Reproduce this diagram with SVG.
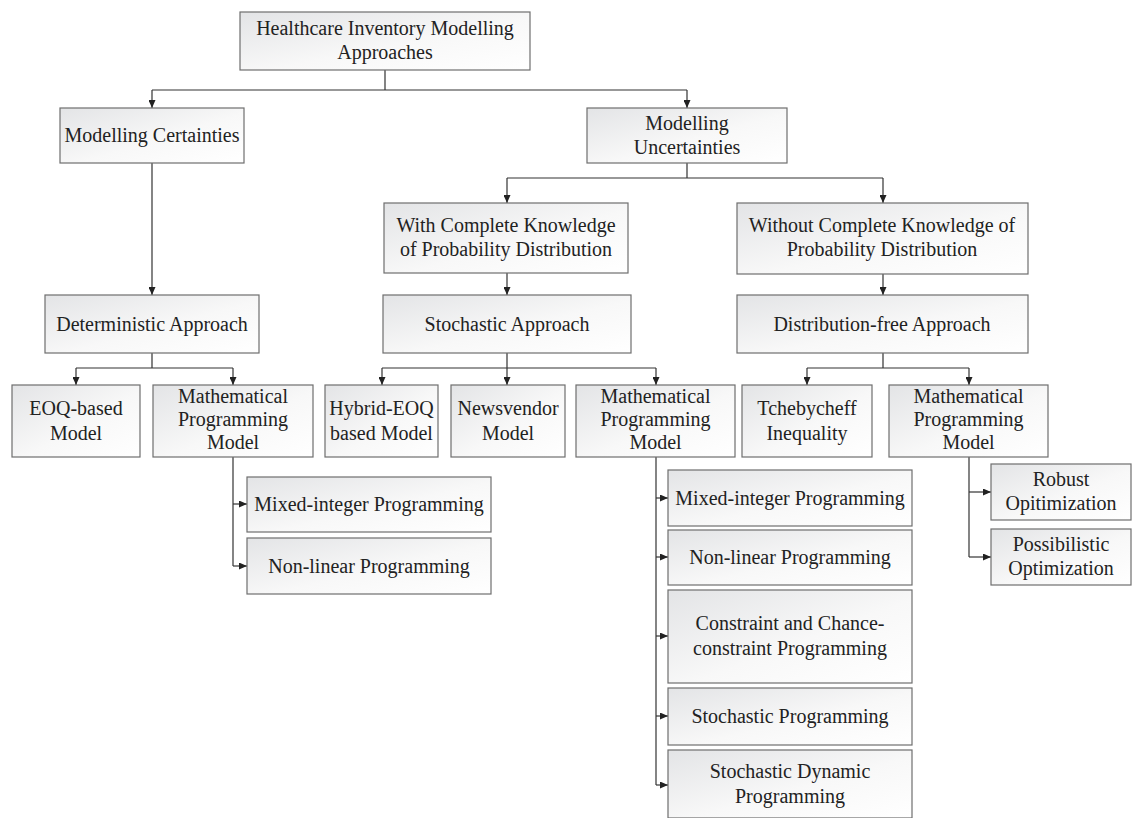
<svg xmlns="http://www.w3.org/2000/svg" width="1134" height="818" viewBox="0 0 1134 818">
<defs>
<linearGradient id="g" x1="0" y1="0" x2="1" y2="1">
<stop offset="0" stop-color="#e3e4e6"/>
<stop offset="0.55" stop-color="#f8f8f8"/>
<stop offset="1" stop-color="#ffffff"/>
</linearGradient>
<marker id="a" markerUnits="userSpaceOnUse" markerWidth="8" markerHeight="7" refX="8" refY="3.5" orient="auto">
<path d="M0,0 L8,3.5 L0,7 z" fill="#222"/>
</marker>
<style>
rect{fill:url(#g);stroke:#6e6e6e;stroke-width:1.2}
text{font-family:"Liberation Serif","Times New Roman",serif;font-size:20px;fill:#222;text-anchor:middle}
#connectors path{fill:none;stroke:#333;stroke-width:1.2}
.ar{marker-end:url(#a)}
</style>
</defs>
<rect x="0" y="0" width="1134" height="818" style="fill:#fff;stroke:none"/>
<g id="connectors">
<path d="M385,70 V90 M152,90 H687"/>
<path class="ar" d="M152,90 V108"/>
<path class="ar" d="M687,90 V108"/>
<path class="ar" d="M152,163 V295"/>
<path d="M687,163 V178 M507,178 H883"/>
<path class="ar" d="M507,178 V203"/>
<path class="ar" d="M883,178 V203"/>
<path class="ar" d="M507,273 V295"/>
<path class="ar" d="M883,274 V295"/>
<path d="M152,353 V368 M76,368 H233"/>
<path class="ar" d="M76,368 V385"/>
<path class="ar" d="M233,368 V385"/>
<path d="M507,353 V368 M382,368 H656"/>
<path class="ar" d="M382,368 V385"/>
<path class="ar" d="M507,368 V385"/>
<path class="ar" d="M656,368 V385"/>
<path d="M883,353 V368 M807,368 H969"/>
<path class="ar" d="M807,368 V385"/>
<path class="ar" d="M969,368 V385"/>
<path d="M233,457 V566"/>
<path class="ar" d="M233,504 H247"/>
<path class="ar" d="M233,566 H247"/>
<path d="M656,457 V785"/>
<path class="ar" d="M656,498 H668"/>
<path class="ar" d="M656,557 H668"/>
<path class="ar" d="M656,636 H668"/>
<path class="ar" d="M656,716 H668"/>
<path class="ar" d="M656,785 H668"/>
<path d="M969,457 V557"/>
<path class="ar" d="M969,492 H991"/>
<path class="ar" d="M969,557 H991"/>
</g>
<g id="root"><rect x="240" y="12" width="290" height="58"/><text x="385" y="35">Healthcare Inventory Modelling</text><text x="385" y="59">Approaches</text></g>
<g id="certainties"><rect x="60" y="108" width="184" height="55"/><text x="152" y="142">Modelling Certainties</text></g>
<g id="uncertainties"><rect x="587" y="108" width="200" height="55"/><text x="687" y="130">Modelling</text><text x="687" y="154">Uncertainties</text></g>
<g id="with-knowledge"><rect x="384" y="203" width="244" height="70"/><text x="506" y="232">With Complete Knowledge</text><text x="506" y="256">of Probability Distribution</text></g>
<g id="without-knowledge"><rect x="737" y="203" width="291" height="71"/><text x="882" y="232">Without Complete Knowledge of</text><text x="882" y="256">Probability Distribution</text></g>
<g id="deterministic"><rect x="45" y="295" width="214" height="58"/><text x="152" y="331">Deterministic Approach</text></g>
<g id="stochastic"><rect x="383" y="295" width="248" height="58"/><text x="507" y="331">Stochastic Approach</text></g>
<g id="distribution-free"><rect x="737" y="295" width="291" height="58"/><text x="882" y="331">Distribution-free Approach</text></g>
<g id="eoq"><rect x="12" y="385" width="128" height="72"/><text x="76" y="415">EOQ-based</text><text x="76" y="440">Model</text></g>
<g id="mp1"><rect x="153" y="385" width="160" height="72"/><text x="233" y="403">Mathematical</text><text x="233" y="426">Programming</text><text x="233" y="449">Model</text></g>
<g id="mip1"><rect x="247" y="477" width="244" height="55"/><text x="369" y="511">Mixed-integer Programming</text></g>
<g id="nlp1"><rect x="247" y="538" width="244" height="56"/><text x="369" y="573">Non-linear Programming</text></g>
<g id="hybrid-eoq"><rect x="325" y="385" width="113" height="72"/><text x="381.5" y="415">Hybrid-EOQ</text><text x="381.5" y="440">based Model</text></g>
<g id="newsvendor"><rect x="451" y="385" width="114" height="72"/><text x="508" y="415">Newsvendor</text><text x="508" y="440">Model</text></g>
<g id="mp2"><rect x="576" y="385" width="159" height="72"/><text x="655.5" y="403">Mathematical</text><text x="655.5" y="426">Programming</text><text x="655.5" y="449">Model</text></g>
<g id="mip2"><rect x="668" y="470" width="244" height="56"/><text x="790" y="505">Mixed-integer Programming</text></g>
<g id="nlp2"><rect x="668" y="530" width="244" height="55"/><text x="790" y="564">Non-linear Programming</text></g>
<g id="ccp"><rect x="668" y="590" width="244" height="93"/><text x="790" y="630">Constraint and Chance-</text><text x="790" y="655">constraint Programming</text></g>
<g id="sp"><rect x="668" y="688" width="244" height="57"/><text x="790" y="723">Stochastic Programming</text></g>
<g id="sdp"><rect x="668" y="750" width="244" height="68"/><text x="790" y="778">Stochastic Dynamic</text><text x="790" y="803">Programming</text></g>
<g id="tchebycheff"><rect x="742" y="385" width="130" height="72"/><text x="807" y="415">Tchebycheff</text><text x="807" y="440">Inequality</text></g>
<g id="mp3"><rect x="889" y="385" width="159" height="72"/><text x="968.5" y="403">Mathematical</text><text x="968.5" y="426">Programming</text><text x="968.5" y="449">Model</text></g>
<g id="robust"><rect x="991" y="464" width="140" height="56"/><text x="1061" y="486">Robust</text><text x="1061" y="510">Opitimization</text></g>
<g id="possibilistic"><rect x="991" y="529" width="140" height="56"/><text x="1061" y="551">Possibilistic</text><text x="1061" y="575">Optimization</text></g>
</svg>
